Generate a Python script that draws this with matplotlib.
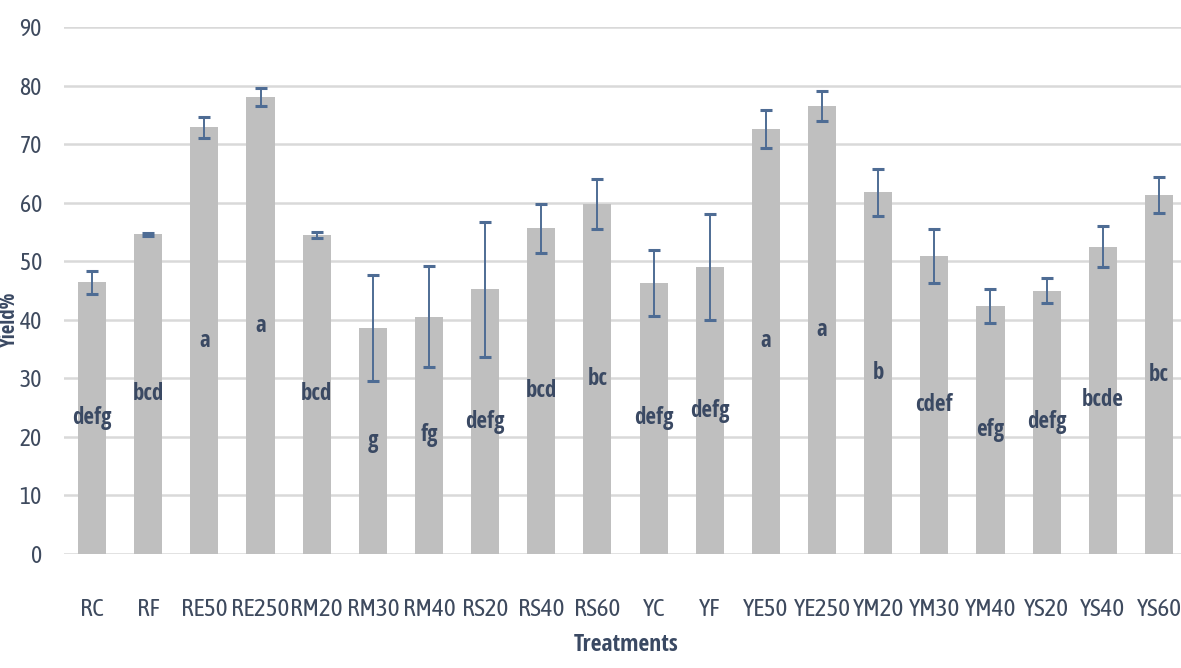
import matplotlib
matplotlib.use("Agg")
import matplotlib.pyplot as plt
from matplotlib import font_manager as fm
import numpy as np

treatments = ["RC", "RF", "RE50", "RE250", "RM20", "RM30", "RM40", "RS20", "RS40", "RS60",
              "YC", "YF", "YE50", "YE250", "YM20", "YM30", "YM40", "YS20", "YS40", "YS60"]
yield_pct = [46.4, 54.6, 72.9, 78.0, 54.5, 38.6, 40.5, 45.2, 55.6, 59.8,
             46.3, 49.0, 72.6, 76.5, 61.8, 50.9, 42.3, 45.0, 52.5, 61.3]
errors = [2.0, 0.3, 1.8, 1.5, 0.5, 9.1, 8.6, 11.5, 4.2, 4.3,
          5.6, 9.1, 3.3, 2.5, 4.0, 4.6, 2.9, 2.1, 3.5, 3.1]
groups = ["defg", "bcd", "a", "a", "bcd", "g", "fg", "defg", "bcd", "bc",
          "defg", "defg", "a", "a", "b", "cdef", "efg", "defg", "bcde", "bc"]
y_ticks = [0, 10, 20, 30, 40, 50, 60, 70, 80, 90]

available = {f.name for f in fm.fontManager.ttflist}
def pick(cands):
    return next((f for f in cands if f in available), "DejaVu Sans")

reg_family = pick(["Asap Condensed", "Archivo Narrow", "Barlow Condensed", "DejaVu Sans"])
bold_family = pick(["Open Sans Condensed", "Asap Condensed", "Barlow Condensed", "DejaVu Sans"])
plt.rcParams["font.family"] = [reg_family, "DejaVu Sans"]

text_col = "#3E4A5E"
label_col = "#3A4963"
bar_col = "#BFBFBF"
err_col = "#4E6C94"
grid_col = "#D9D9D9"

fig = plt.figure(figsize=(11.81, 6.68), dpi=100)
ax = fig.add_axes([64 / 1181, 1 - 554 / 668, 1123 / 1181, 527 / 668])

x = np.arange(len(treatments))
ax.bar(x, yield_pct, width=0.5, color=bar_col, zorder=2)
ax.errorbar(x, yield_pct, yerr=errors, fmt="none", ecolor=err_col, elinewidth=1.4,
            capsize=4.5, capthick=2.2, zorder=3)

for xi, v, g in zip(x, yield_pct, groups):
    ax.text(xi, v / 2, g, ha="center", va="center", fontsize=16.5, fontweight="bold",
            color=label_col, zorder=4, family=[bold_family, "DejaVu Sans"])

ax.set_xlim(-0.5, len(treatments) - 0.5)
ax.set_ylim(0, 90)
ax.set_yticks(y_ticks)
ax.set_xticks(x)
ax.set_xticklabels(treatments)
ax.yaxis.grid(True, color=grid_col, linewidth=1.8, zorder=0)
ax.set_axisbelow(True)
for s in ax.spines.values():
    s.set_visible(False)
ax.tick_params(axis="both", length=0, labelsize=18, labelcolor=text_col)
ax.tick_params(axis="x", pad=32)
ax.tick_params(axis="y", pad=16, labelsize=17)

fig.text(10 / 1181, 1 - 320 / 668, "Yield%", rotation=90, ha="center", va="center",
         fontsize=15, fontweight="bold", color=label_col, family=[bold_family, "DejaVu Sans"])
fig.text(626 / 1181, 1 - 645 / 668, "Treatments", ha="center", va="center",
         fontsize=17, fontweight="bold", color=label_col, family=[bold_family, "DejaVu Sans"])

fig.savefig("out.png", dpi=100)
